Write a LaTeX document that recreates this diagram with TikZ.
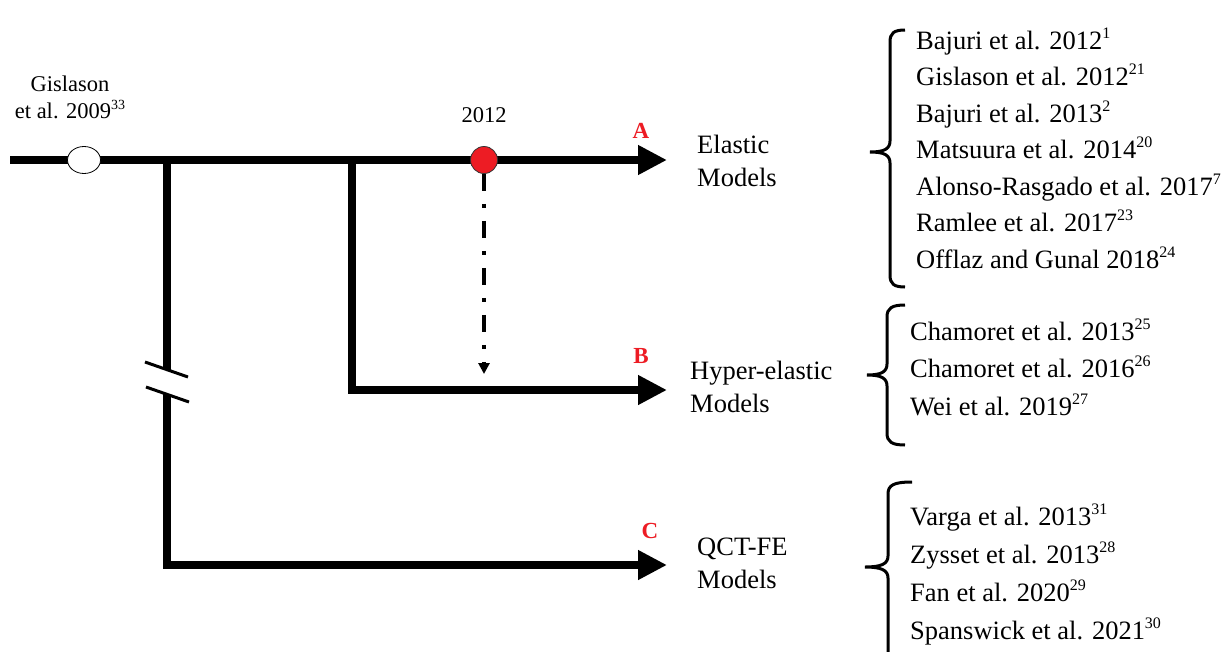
\documentclass[tikz,border=0pt]{standalone}
\usepackage{fontspec}
\setmainfont{Liberation Serif}
\usetikzlibrary{arrows.meta,shapes.geometric}
\definecolor{myred}{RGB}{237,28,36}
\newcommand{\refsup}[1]{\raisebox{0.40em}{\fontsize{16}{16}\selectfont #1}}
\newcommand{\smallsup}[1]{\raisebox{0.40em}{\fontsize{14}{14}\selectfont #1}}
\begin{document}
\begin{tikzpicture}[x=1pt,y=-1pt,
  every node/.style={inner sep=0pt},
  txt/.style={font=\fontsize{26.5}{28}\selectfont, anchor=base west},
  ctxt/.style={font=\fontsize{22.5}{24}\selectfont, anchor=base},
  lbl/.style={font=\fontsize{23}{24}\selectfont\bfseries, text=myred, anchor=base},
  trunk/.style={line width=8.5pt},
  bigarrow/.style={line width=8.5pt, -{Triangle[length=29pt,width=28pt]}},
  brc/.style={line width=3pt},
  slash/.style={line width=3pt},
]
\clip (0,0) rectangle (1226,651);
\fill[white] (0,0) rectangle (1226,651);

% coordinates
\coordinate (s) at (10,160);
\coordinate (tA) at (667,160);
\coordinate (j1) at (167,160);
\coordinate (j2) at (352,160);
\coordinate (tB) at (667,390);
\coordinate (tC) at (667,565);
\coordinate (brk1) at (167,370);
\coordinate (brk2) at (167,394);
\coordinate (dd) at (484,374);

% trunk and branches
\draw[bigarrow] (s) -- (tA);
\draw[trunk] (j1) -- (brk1);
\draw[bigarrow] (brk2) |- (tC);
\draw[bigarrow] (j2) |- (tB);

% break marks
\draw[slash] (145,362) -- (188,377);
\draw[slash] (146,387) -- (189,402);

% events
\node[ellipse, draw, line width=0.8pt, fill=white, minimum width=33pt, minimum height=27pt] (g) at (84,160) {};
\node[circle, draw=black!80, line width=0.8pt, fill=myred, minimum size=27pt] (r) at (484,160) {};
\draw[line width=4.5pt, dash pattern=on 17pt off 13pt on 4pt off 13pt, -{Triangle[length=11pt,width=11pt]}] (r.south) -- (dd);

\node[ctxt] (gis1) at (70,91) {Gislason};
\node[ctxt] (gis2) at (70,118) {et al. 2009\smallsup{33}};
\node[ctxt] (y2012) at (484,122) {2012};

% branch labels
\node[lbl] (la) at (641,138) {A};
\node[lbl] (lb) at (641,363) {B};
\node[lbl] (lc) at (650,538) {C};

\node[txt] (e1) at (697,153) {Elastic};
\node[txt] (e2) at (697,186) {Models};
\node[txt] (h1) at (690,379) {Hyper-elastic};
\node[txt] (h2) at (690,412) {Models};
\node[txt] (q1) at (697,555) {QCT-FE};
\node[txt] (q2) at (697,588) {Models};

% braces
\draw[brc] (905,30) .. controls (894,30) and (890,33) .. (890,42) -- (890,141)
  .. controls (890,149) and (884,152) .. (870,152)
  .. controls (884,152) and (890,155) .. (890,163) -- (890,275)
  .. controls (890,284) and (894,287) .. (905,287);
\draw[brc] (905,305) .. controls (892,305) and (887,308) .. (887,317) -- (887,364)
  .. controls (887,372) and (881,375) .. (867,375)
  .. controls (881,375) and (887,378) .. (887,386) -- (887,433)
  .. controls (887,442) and (892,445) .. (905,445);
\draw[brc] (912,482) .. controls (894,482) and (888,485) .. (888,494) -- (888,556)
  .. controls (888,564) and (881,567) .. (865,567)
  .. controls (881,567) and (888,570) .. (888,578) -- (888,690);

% list A
\node[txt] (a1) at (916,49) {Bajuri et al. 2012\refsup{1}};
\node[txt] (a2) at (916,85.5) {Gislason et al. 2012\refsup{21}};
\node[txt] (a3) at (916,122) {Bajuri et al. 2013\refsup{2}};
\node[txt] (a4) at (916,158.5) {Matsuura et al. 2014\refsup{20}};
\node[txt] (a5) at (916,195) {Alonso-Rasgado et al. 2017\refsup{7}};
\node[txt] (a6) at (916,231.5) {Ramlee et al. 2017\refsup{23}};
\node[txt] (a7) at (916,268) {Offlaz and Gunal 2018\refsup{24}};

% list B
\node[txt] (b1) at (910,340) {Chamoret et al. 2013\refsup{25}};
\node[txt] (b2) at (910,377.5) {Chamoret et al. 2016\refsup{26}};
\node[txt] (b3) at (910,415) {Wei et al. 2019\refsup{27}};

% list C
\node[txt] (c1) at (910,525) {Varga et al. 2013\refsup{31}};
\node[txt] (c2) at (910,563) {Zysset et al. 2013\refsup{28}};
\node[txt] (c3) at (910,601) {Fan et al. 2020\refsup{29}};
\node[txt] (c4) at (910,639) {Spanswick et al. 2021\refsup{30}};
\end{tikzpicture}
\end{document}
